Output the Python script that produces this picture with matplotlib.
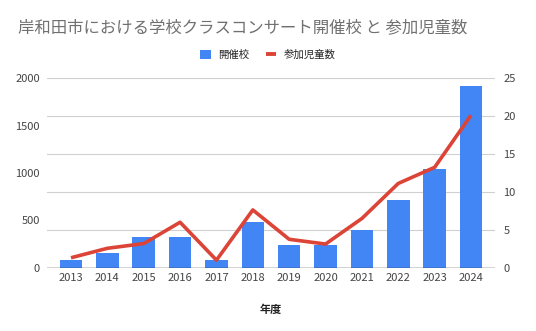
import matplotlib.pyplot as plt
from matplotlib.lines import Line2D
from matplotlib.patches import Patch

plt.rcParams['font.family'] = ['Noto Sans CJK JP', 'DejaVu Sans']

years = ['2013', '2014', '2015', '2016', '2017', '2018',
         '2019', '2020', '2021', '2022', '2023', '2024']
schools = [1, 2, 4, 4, 1, 6, 3, 3, 5, 9, 13, 24]
children = [105, 205, 255, 480, 80, 610, 300, 250, 520, 890, 1060, 1610]

blue = '#4285f4'
red = '#db4437'
tick_color = '#444444'

fig = plt.figure(figsize=(5.36, 3.31), dpi=100)
ax = fig.add_axes([0.0877, 0.1912, 0.8358, 0.5722])
ax2 = ax.twinx()

x = range(len(years))
ax2.bar(x, schools, width=0.62, color=blue, zorder=2)
ax.plot(x, children, color=red, linewidth=2.6, solid_capstyle='butt', zorder=3)

# children on the left scale, schools on the right; line drawn above bars
ax.set_zorder(ax2.get_zorder() + 1)
ax.patch.set_visible(False)

ax.set_ylim(0, 2000)
ax.set_yticks([0, 500, 1000, 1500, 2000])
ax2.set_ylim(0, 25)
ax2.set_yticks([0, 5, 10, 15, 20, 25])
ax.set_xlim(-0.66, 11.66)
ax.set_xticks(list(x))
ax.set_xticklabels(years)

ax2.grid(axis='y', color='#d0d0d0', linewidth=0.8, zorder=0)
ax2.set_axisbelow(True)

for a in (ax, ax2):
    for s in a.spines.values():
        s.set_visible(False)
    a.tick_params(length=0, labelsize=8, colors=tick_color)
ax.tick_params(axis='y', pad=5)
ax2.tick_params(axis='y', pad=6)
ax.tick_params(axis='x', pad=4)
ax.axhline(0, color='#333333', linewidth=1.0, zorder=4)

ax.set_xlabel('年度', fontsize=8, color='#222222', fontweight='bold', labelpad=14)

fig.text(0.033, 0.916, '岸和田市における学校クラスコンサート開催校 と 参加児童数',
         fontsize=11.8, color='#707070', ha='left', va='center')

handles = [Patch(facecolor=blue, edgecolor='none'),
           Line2D([0], [0], color=red, linestyle='none', marker='_',
                  markersize=7, markeredgewidth=2.8)]
fig.legend(handles, ['開催校', '参加児童数'], loc='center', bbox_to_anchor=(0.5, 0.835),
           ncol=2, frameon=False, fontsize=7.5, handlelength=1.0, handleheight=1.0,
           columnspacing=1.6, handletextpad=0.7, labelcolor='#222222')

fig.savefig('out.png', dpi=100, facecolor='white')
